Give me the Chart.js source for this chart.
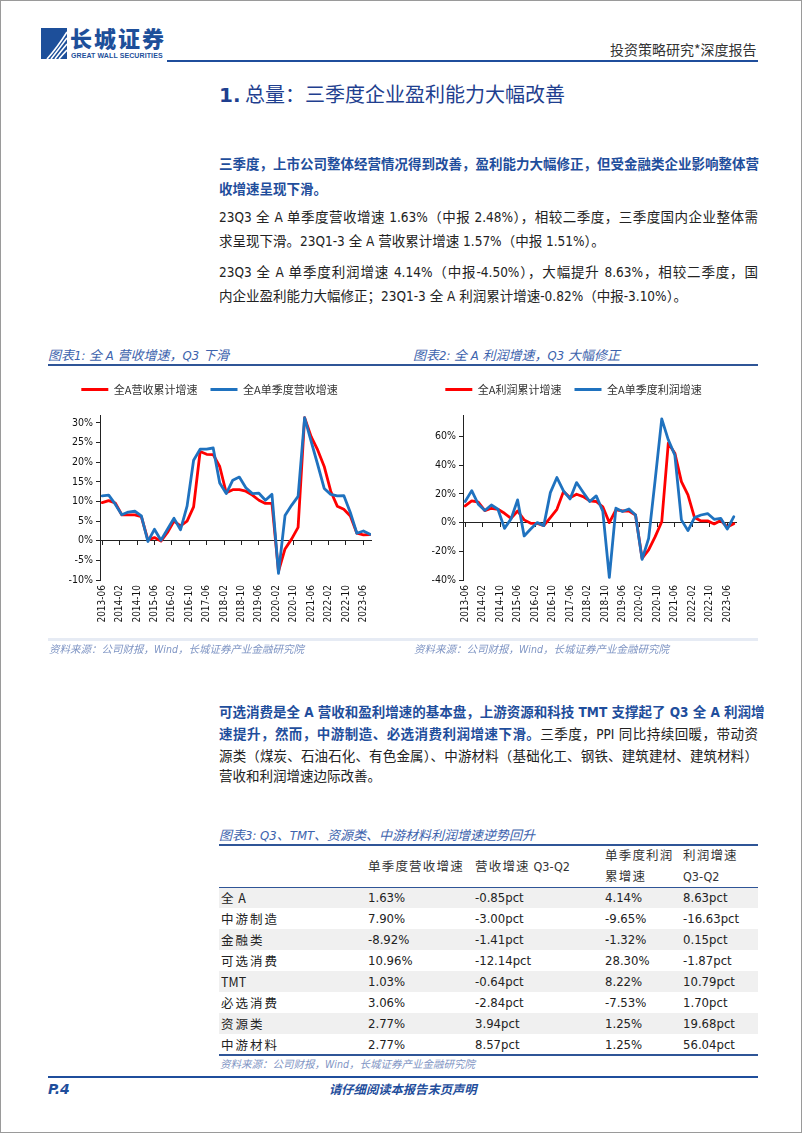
<!DOCTYPE html>
<html>
<head>
<meta charset="utf-8">
<script src="https://cdn.jsdelivr.net/npm/chart.js@4.4.0/dist/chart.umd.min.js"></script>
<style>
html, body { margin: 0; padding: 0; background: #fff; }
#page { position: relative; width: 802px; height: 1133px; box-sizing: border-box; border: 1px solid #9a9a9a; overflow: hidden;
  font-family: "DejaVu Sans Condensed", "DejaVu Sans", "Noto Sans CJK SC", sans-serif; color: #222; }
.abs { position: absolute; white-space: nowrap; }
.ln { position: absolute; left: 218px; width: 539px; height: 20px; line-height: 20px; font-size: 13.5px; white-space: nowrap;
  text-align: justify; text-align-last: justify; }
.ln.last { text-align-last: left; }
.bl { color: #1f4e9c; font-weight: bold; }
.cap { position: absolute; font-size: 13px; font-style: italic; color: #3d63ad; white-space: nowrap; }
.src { position: absolute; font-size: 10.5px; font-style: italic; color: #7f95c4; white-space: nowrap; }
.rule { position: absolute; background: #2f5597; }
.chartbox { position: absolute; width: 350px; height: 270px; }
table { position: absolute; left: 218px; top: 844px; width: 539px; border-collapse: collapse; font-size: 13px; }
td { padding: 0; height: 21px; line-height: 21px; white-space: nowrap; vertical-align: middle; }
td.lab { padding-left: 2px; font-family: "Noto Sans CJK SC", sans-serif; font-size: 12.5px; }
.sp { letter-spacing: 2px; }
thead .sp { letter-spacing: 1.2px; }
tr.g td { background: #f0f0f0; }
thead td { height: 42px; line-height: 21px; font-size: 12.5px; color: #333; }
</style>
</head>
<body>
<div id="page">
  <!-- header -->
  <svg class="abs" style="left:40px;top:27px" width="26" height="31" viewBox="0 0 26 31">
    <rect width="26" height="31" fill="#1d4f9a"/>
    <path d="M6 31 Q16 20 26 4 M10 31 Q18 21 26 10 M14 31 Q20 23 26 16 M18 31 Q22 26 26 22" stroke="#fff" stroke-width="1.6" fill="none"/>
  </svg>
  <div class="abs" style="left:69px;top:22px;font-family:'Noto Sans CJK SC';font-weight:900;font-size:22px;line-height:28px;letter-spacing:2px;color:#1d4f9a;">长城证券</div>
  <div class="abs" style="left:70px;top:51px;font-family:'Liberation Sans';font-weight:bold;font-size:7px;line-height:8px;color:#1d4f9a;letter-spacing:0.1px;">GREAT WALL SECURITIES</div>
  <div class="abs" style="left:609px;top:38px;font-family:'Noto Sans CJK SC';font-size:14px;color:#333;">投资策略研究*深度报告</div>
  <div class="abs" style="left:166px;top:59px;width:591px;height:2px;background:#1f4e9c;"></div>

  <div class="abs" style="left:218px;top:78px;font-size:20px;color:#1f3f8f;font-family:'Noto Sans CJK SC';">
    <span style="font-family:'DejaVu Sans';font-weight:bold;">1.</span> 总量：三季度企业盈利能力大幅改善</div>

  <!-- paragraphs -->
  <div class="ln bl" style="top:153px">三季度，上市公司整体经营情况得到改善，盈利能力大幅修正，但受金融类企业影响整体营</div>
  <div class="ln bl last" style="top:178px">收增速呈现下滑。</div>
  <div class="ln" style="top:206px">23Q3 全 A 单季度营收增速 1.63%（中报 2.48%），相较二季度，三季度国内企业整体需</div>
  <div class="ln last" style="top:230px">求呈现下滑。23Q1-3 全 A 营收累计增速 1.57%（中报 1.51%）。</div>
  <div class="ln" style="top:261px">23Q3 全 A 单季度利润增速 4.14%（中报-4.50%），大幅提升 8.63%，相较二季度，国</div>
  <div class="ln last" style="top:285px">内企业盈利能力大幅修正；23Q1-3 全 A 利润累计增速-0.82%（中报-3.10%）。</div>

  <!-- chart captions -->
  <div class="cap" style="left:47px;top:344px">图表1: 全 A 营收增速，Q3 下滑</div>
  <div class="cap" style="left:412px;top:344px">图表2: 全 A 利润增速，Q3 大幅修正</div>
  <div class="rule" style="left:47px;top:363px;width:710px;height:1.5px;"></div>

  <div class="chartbox" style="left:47px;top:370px"><canvas id="c1"></canvas></div>
  <div class="chartbox" style="left:410px;top:370px"><canvas id="c2"></canvas></div>
  <div class="abs" style="left:47px;top:637px;width:710px;height:3px;background:#e6ebf4;"></div>

  <div class="src" style="left:48px;top:640px">资料来源：公司财报，Wind，长城证券产业金融研究院</div>
  <div class="src" style="left:413px;top:640px">资料来源：公司财报，Wind，长城证券产业金融研究院</div>

  <div class="ln bl" style="top:701px">可选消费是全 A 营收和盈利增速的基本盘，上游资源和科技 TMT 支撑起了 Q3 全 A 利润增</div>
  <div class="ln" style="top:723px"><span class="bl">速提升，然而，中游制造、必选消费利润增速下滑。</span>三季度，PPI 同比持续回暖，带动资</div>
  <div class="ln" style="top:745px">源类（煤炭、石油石化、有色金属）、中游材料（基础化工、钢铁、建筑建材、建筑材料）</div>
  <div class="ln last" style="top:765px">营收和利润增速边际改善。</div>

  <!-- table -->
  <div class="cap" style="left:218px;top:824px">图表3: Q3、TMT、资源类、中游材料利润增速逆势回升</div>
  <div class="rule" style="left:218px;top:843px;width:539px;height:1.5px;"></div>
  <table id="tbl">
    <colgroup><col style="width:149px"><col style="width:107px"><col style="width:130px"><col style="width:78px"><col style="width:75px"></colgroup>
    <thead><tr id="thead"></tr></thead>
    <tbody id="tbody"></tbody>
  </table>
  <div class="rule" style="left:218px;top:885.5px;width:539px;height:1.5px;"></div>
  <div class="rule" style="left:218px;top:1053px;width:539px;height:1.5px;"></div>
  <div class="src" style="left:219px;top:1055px">资料来源：公司财报，Wind，长城证券产业金融研究院</div>

  <!-- footer -->
  <div class="abs" style="left:47px;top:1075px;width:710px;height:2px;background:#1f4e9c;"></div>
  <div class="abs" style="left:47px;top:1080px;font-size:14px;font-weight:bold;font-style:italic;color:#1f4e9c;font-family:'DejaVu Sans';">P.4</div>
  <div class="abs" style="left:328px;top:1079px;font-size:12.3px;font-weight:bold;font-style:italic;color:#1f4e9c;font-family:'Noto Sans CJK SC';">请仔细阅读本报告末页声明</div>
</div>

<script>
// Chart data
const quarters = ['2013-06','2013-09','2013-12','2014-03','2014-06','2014-09','2014-12','2015-03','2015-06','2015-09','2015-12',
  '2016-03','2016-06','2016-09','2016-12','2017-03','2017-06','2017-09','2017-12','2018-03','2018-06','2018-09','2018-12',
  '2019-03','2019-06','2019-09','2019-12','2020-03','2020-06','2020-09','2020-12','2021-03','2021-06','2021-09','2021-12',
  '2022-03','2022-06','2022-09','2022-12','2023-03','2023-06','2023-09'];
const xTickLabels = ['2013-06','2014-02','2014-10','2015-06','2016-02','2016-10','2017-06','2018-02','2018-10','2019-06',
  '2020-02','2020-10','2021-06','2022-02','2022-10','2023-06'];

const revCum = [9.7, 10.2, 9.6, 6.6, 6.6, 6.6, 6.1, 0.2, 0.8, -0.1, 2.1, 5.0, 3.8, 5.0, 8.6, 22.7, 22.0, 21.9, 18.9, 12.2, 13.0,
  13.0, 12.6, 11.6, 10.3, 9.5, 9.5, -7.8, -2.1, 0.4, 3.4, 31.3, 26.5, 23.1, 18.9, 12.6, 8.8, 8.0, 6.3, 1.9, 1.51, 1.57];
const revQ = [11.4, 11.6, 9.3, 6.6, 7.3, 7.5, 6.3, -0.2, 2.9, 0.1, 2.9, 5.7, 2.8, 8.8, 20.5, 23.3, 23.3, 23.6, 14.7, 12.0, 15.4,
  16.2, 13.5, 12.0, 12.1, 10.3, 11.8, -8.3, 6.4, 9.0, 11.3, 31.3, 25.3, 19.4, 13.3, 11.8, 11.4, 11.5, 7.2, 1.9, 2.48, 1.63];
const profCum = [11.6, 15.2, 14.2, 8.4, 10.0, 9.3, 6.5, 3.0, 8.1, 1.9, -0.5, -0.5, -2.1, 3.5, 9.3, 21.6, 17.4, 19.8, 18.1, 15.1, 14.7,
  11.0, 0.0, 8.8, 8.1, 8.1, 5.3, -24.9, -19.0, -9.8, 0.6, 55.3, 48.4, 28.6, 19.3, 3.5, 1.2, 1.2, -0.9, 1.5, -3.10, -0.82];
const profQ = [14.7, 22.3, 12.8, 8.4, 12.3, 9.3, -4.0, 2.6, 15.8, -9.3, -4.4, 0.0, -2.1, 20.9, 31.4, 22.1, 16.5, 27.9, 21.2, 14.7, 18.6,
  8.0, -38.1, 10.0, 7.7, 9.5, 5.3, -25.6, -11.0, 30.0, 72.3, 57.7, 47.0, 1.9, -5.6, 3.5, 5.3, 6.3, 2.3, 3.0, -4.50, 4.14];

const yTicks1 = [-10, -5, 0, 5, 10, 15, 20, 25, 30];
const yTicks2 = [-40, -20, 0, 20, 40, 60];

const tableHead = ['', '<span class="sp">单季度营收增速</span>', '<span class="sp">营收增速</span> Q3-Q2',
  '<span class="sp">单季度利润</span><br><span class="sp">累增速</span>', '<span class="sp">利润增速</span><br>Q3-Q2'];
const tableRows = ['<span class="sp">全</span> A', '<span class="sp">中游制造</span>', '<span class="sp">金融类</span>', '<span class="sp">可选消费</span>',
  'TMT', '<span class="sp">必选消费</span>', '<span class="sp">资源类</span>', '<span class="sp">中游材料</span>'];
const revQ3 = ['1.63%', '7.90%', '-8.92%', '10.96%', '1.03%', '3.06%', '2.77%', '2.77%'];
const revDiff = ['-0.85pct', '-3.00pct', '-1.41pct', '-12.14pct', '-0.64pct', '-2.84pct', '3.94pct', '8.57pct'];
const profQ3 = ['4.14%', '-9.65%', '-1.32%', '28.30%', '8.22%', '-7.53%', '1.25%', '1.25%'];
const profDiff = ['8.63pct', '-16.63pct', '0.15pct', '-1.87pct', '10.79pct', '1.70pct', '19.68pct', '56.04pct'];

// table
document.getElementById('thead').innerHTML = tableHead.map(h => `<td>${h}</td>`).join('');
document.getElementById('tbody').innerHTML = tableRows.map((r, i) =>
  `<tr class="${i % 2 === 0 ? 'g' : ''}"><td class="lab">${r}</td><td>${revQ3[i]}</td><td>${revDiff[i]}</td><td>${profQ3[i]}</td><td>${profDiff[i]}</td></tr>`).join('');

// month offset from 2013-06
const monthIdx = s => (parseInt(s.slice(0, 4)) - 2013) * 12 + parseInt(s.slice(5, 7)) - 6;
const xTickVals = xTickLabels.map(monthIdx);
const LATIN = '"DejaVu Sans Condensed", "DejaVu Sans", sans-serif';

const legendGap = {
    id: 'legendGap',
    beforeInit(chart) {
        const fit = chart.legend.fit;
        chart.legend.fit = function () { fit.bind(chart.legend)(); this.height += 10; };
    }
};

function makeChart(id, names, red, blue, yMin, yMax, yTicks, xMax, rightPad) {
    const ctx = document.getElementById(id).getContext('2d');
    const pts = arr => arr.map((v, i) => ({ x: monthIdx(quarters[i]), y: v }));
    return new Chart(ctx, {
        type: 'line',
        data: {
            datasets: [
                { label: names[0], data: pts(red), borderColor: '#ff0000', backgroundColor: '#ff0000', order: 1 },
                { label: names[1], data: pts(blue), borderColor: '#1f72bf', backgroundColor: '#1f72bf', order: 0 }
            ]
        },
        options: {
            responsive: true,
            maintainAspectRatio: false,
            animation: false,
            layout: { padding: { left: 0, right: rightPad, top: 0, bottom: 0 } },
            elements: { point: { radius: 0 }, line: { tension: 0, borderWidth: 2.8, borderJoinStyle: 'round', borderCapStyle: 'round' } },
            plugins: {
                tooltip: { enabled: false },
                legend: {
                    position: 'top',
                    labels: {
                        boxWidth: 27, boxHeight: 3, padding: 13, color: '#333',
                        font: { family: '"Noto Sans CJK SC", sans-serif', size: 11 },
                        sort: (a, b) => a.datasetIndex - b.datasetIndex,
                        generateLabels: chart => Chart.defaults.plugins.legend.labels.generateLabels(chart)
                            .map(l => ({ ...l, lineWidth: 0 }))
                    }
                }
            },
            scales: {
                x: {
                    type: 'linear', min: -1, max: xMax,
                    afterBuildTicks: s => { s.ticks = xTickVals.map(v => ({ value: v })); },
                    afterFit: s => { s.height = 61; },
                    grid: { display: false, drawTicks: false },
                    border: { display: false },
                    ticks: {
                        autoSkip: false, minRotation: 90, maxRotation: 90, padding: 5, color: '#111',
                        font: { family: LATIN, size: 10 },
                        callback: (v, i) => xTickLabels[i]
                    }
                },
                x0: {
                    type: 'linear', axis: 'x', position: { y: 0 }, min: -1, max: xMax,
                    afterBuildTicks: s => { s.ticks = xTickVals.map(v => ({ value: v })); },
                    afterFit: s => { s.height = 0; },
                    grid: { drawOnChartArea: false, drawTicks: true, tickLength: 4, color: '#222' },
                    border: { display: true, color: '#222', width: 1 },
                    ticks: { display: false }
                },
                y: {
                    min: yMin, max: yMax,
                    afterBuildTicks: s => { s.ticks = yTicks.map(v => ({ value: v })); },
                    afterFit: s => { s.width = 52; },
                    grid: { drawOnChartArea: false, drawTicks: true, tickLength: 4, color: '#222' },
                    border: { display: true, color: '#222', width: 1 },
                    ticks: { padding: 3, color: '#111', font: { family: LATIN, size: 10.5 }, callback: v => v + '%' }
                }
            }
        },
        plugins: [legendGap]
    });
}

makeChart('c1', ['全A营收累计增速', '全A单季度营收增速'], revCum, revQ, -10, 32, yTicks1, 123.5, 27);
makeChart('c2', ['全A利润累计增速', '全A单季度利润增速'], profCum, profQ, -40, 75, yTicks2, 124, 25);
</script>
</body>
</html>
